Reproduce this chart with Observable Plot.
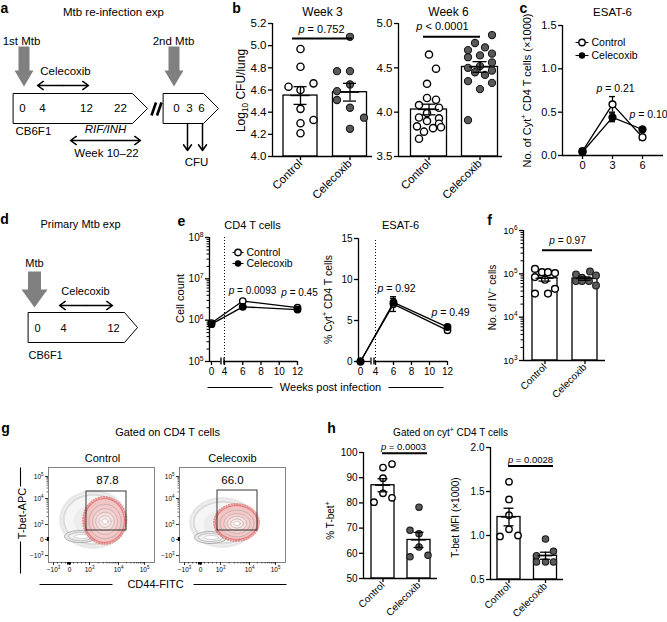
<!DOCTYPE html>
<html><head><meta charset="utf-8">
<script src="https://cdn.jsdelivr.net/npm/d3@7"></script>
<script src="https://cdn.jsdelivr.net/npm/@observablehq/plot@0.6"></script>
<style>
html,body{margin:0;padding:0;background:#fff;}
#root{position:relative;width:667px;height:622px;overflow:hidden;background:#fff;}
#root svg{position:absolute;overflow:visible;}
</style></head><body><div id="root"></div>
<script>
// ================= DATA =================
const groups = ["Control", "Celecoxib"];

// (b) Log10 CFU/lung after re-infection
const wk3Control   = [4.97, 4.81, 4.66, 4.63, 4.60, 4.43, 4.33, 4.30, 4.21];
const wk3Celecoxib = [5.08, 4.77, 4.77, 4.65, 4.59, 4.51, 4.44, 4.35, 4.25];
const wk3Mean = [4.55, 4.58];
const wk3Sem  = [0.08, 0.08];
const wk6Control   = [4.65,4.49,4.32,4.16,4.14,4.08,4.05,3.99,3.94,3.93,3.90,3.87,3.84,3.83,3.82,3.78,3.70];
const wk6Celecoxib = [4.87,4.78,4.73,4.70,4.66,4.64,4.62,4.56,4.52,4.50,4.47,4.45,4.42,4.35,4.33,4.26,3.91];
const wk6Mean = [4.03, 4.51];
const wk6Sem  = [0.06, 0.06];

// (c) ESAT-6 cyt+ CD4 T cells (x1000)
const cWeeks = [0, 3, 6];
const cControl = [0.05, 0.59, 0.21];
const cControlSem = [0.01, 0.09, 0.03];
const cCelecoxib = [0.04, 0.44, 0.30];
const cCelecoxibSem = [0.01, 0.05, 0.025];

// (e) primary infection time course
const eWeeks = [0, 6, 12];
const eTickWeeks = [0, 4, 6, 8, 10, 12];
const eCountControl = [8.5e5, 2.9e6, 2.0e6];
const eCountControlSem = [1.0e5, 2.0e5, 1.5e5];
const eCountCelecoxib = [8.0e5, 2.1e6, 1.8e6];
const eCountCelecoxibSem = [1.0e5, 1.5e5, 1.0e5];
const eEsatControl = [0, 7.0, 3.8];
const eEsatControlSem = [0, 0.9, 0.25];
const eEsatCelecoxib = [0, 7.2, 4.2];
const eEsatCelecoxibSem = [0, 0.5, 0.2];

// (f) No. of IV- cells
const fControl   = [1.30e5,1.09e5,1.09e5,1.04e5,8.4e4,7.3e4,4.5e4,3.5e4,3.5e4];
const fCelecoxib = [1.13e5,9.7e4,9.2e4,8.1e4,6.8e4,6.8e4,6.8e4,5.4e4];
const fMean = [7.9e4, 7.8e4];
const fSem  = [1.1e4, 0.7e4];

// (g) gate percentages
const gatePct = ["87.8", "66.0"];

// (h) % T-bet+ and T-bet MFI
const hControl   = [95.4, 94.0, 89.8, 83.8, 82.0, 80.3];
const hCelecoxib = [78.3, 69.1, 67.8, 62.5, 59.2, 58.6];
const hMean = [87.0, 65.3];
const hSem  = [2.6, 3.0];
const mfiControl   = [1.61, 1.41, 1.23, 1.07, 1.00, 0.99];
const mfiCelecoxib = [0.96, 0.82, 0.77, 0.70, 0.70, 0.70];
const mfiMean = [1.21, 0.77];
const mfiSem  = [0.10, 0.04];

// p values
const pValues = {wk3:"0.752", wk6:"0.0001", c3:"0.21", c6:"0.10", e6:"0.0093", e12:"0.45",
                 es6:"0.92", es12:"0.49", f:"0.97", h1:"0.0003", h2:"0.0028"};

// ================= LAYOUT (pixel offsets of points inside columns) =================
const jit = {
  wk3: [[0,0,13,-12,0,0,13,0,0],[0,-13,0,0,-13,-13,0,14,0]],
  wk6: [[0,7,-2,-2,7,-10,10,-2,-10,10,-2,10,-12,12,4,-5,-10],[12,-5,5,-12,12,0,-12,12,0,-12,12,-5,5,-12,12,0,-12]],
  f:   [[-10,-3,3,10,-10,0,10,-10,3],[5,-9,11,-3,-9,-3,4,11]],
  h:   [[9,0,0,0,9,-9],[0,-9,0,0,9,-9]],
  mfi: [[0,0,0,0,9,-9],[0,8,-9,-9,0,8]]
};

const F = '"Liberation Sans", Arial, Helvetica, sans-serif';
const root = document.getElementById("root");
const baseStyle = {fontFamily: F, fontSize: "11px", color: "black", background: "none", overflow: "visible"};
function place(svg, left, top){ svg.style.left = left + "px"; svg.style.top = top + "px"; root.appendChild(svg); }
const sup10 = d => "10^{" + Math.round(Math.log10(d)) + "}";
const logMinor = (a, b) => { const r = []; for (let e = a; e < b; e++) for (let k = 2; k <= 9; k++) r.push(k * Math.pow(10, e)); return r; };

// ================= BAR + SCATTER PANELS =================
function barPanel(o){
  const unit = o.c1 - o.c0;
  const xd = [(o.axL - o.c0) / unit, (o.axR - o.c0) / unit];
  const hw = o.hw / unit, cap = o.cap / unit;
  const y0 = o.yDomain[0];
  const stats = [0, 1].map(i => ({i, m: o.mean[i], s: o.sem[i]}));
  const pts = g => o.values[g].map((v, j) => ({x: g + o.jitter[g][j] / unit, v}));
  const sw = 1.3;
  const marks = [
    Plot.rectY(stats, {x1: d => d.i - hw, x2: d => d.i + hw, y1: y0, y2: "m", fill: "white", stroke: "black", strokeWidth: sw}),
    Plot.dot(pts(0), {x: "x", y: "v", r: o.r, fill: "white", stroke: "black", strokeWidth: 1.4}),
    Plot.dot(pts(1), {x: "x", y: "v", r: o.r, fill: "#5a5a5a", stroke: "#1a1a1a", strokeWidth: 1.1}),
    Plot.ruleX(stats, {x: "i", y1: d => d.m - d.s, y2: d => d.m + d.s, strokeWidth: sw}),
    Plot.ruleY(stats, {y: d => d.m + d.s, x1: d => d.i - cap, x2: d => d.i + cap, strokeWidth: sw}),
    Plot.ruleY(stats, {y: d => d.m - d.s, x1: d => d.i - cap, x2: d => d.i + cap, strokeWidth: sw}),
    Plot.ruleY(stats, {y: "m", x1: d => d.i - cap * 1.5, x2: d => d.i + cap * 1.5, strokeWidth: sw}),
    Plot.ruleX([xd[0]], {y1: o.yDomain[0], y2: o.yDomain[1], strokeWidth: sw}),
    Plot.ruleY([y0], {x1: xd[0], x2: xd[1], strokeWidth: sw}),
    Plot.axisY({ticks: o.ticks, tickFormat: o.fmt, tickSize: 4, tickPadding: 2, strokeWidth: sw, fontSize: o.fs, label: null}),
    Plot.axisX({ticks: [0, 1], tickFormat: d => groups[d], tickRotate: -45, tickSize: 4, tickPadding: 1, strokeWidth: sw, fontSize: o.fsx, label: null}),
    Plot.ruleY([o.pY], {x1: (o.p1 - o.c0) / unit, x2: (o.p2 - o.c0) / unit, strokeWidth: 2})
  ];
  if (o.minor) marks.push(Plot.axisY({ticks: o.minor, tickFormat: () => "", tickSize: 2.5, strokeWidth: 1, label: null}));
  const svg = Plot.plot({
    width: o.width, height: o.height,
    marginLeft: o.axL - o.left, marginRight: o.left + o.width - o.axR,
    marginTop: o.yT - o.top, marginBottom: o.top + o.height - o.yB,
    x: {domain: xd}, y: {type: o.yType || "linear", domain: o.yDomain},
    style: baseStyle, marks
  });
  place(svg, o.left, o.top);
}

// ================= LINE PANELS (week axis may be broken/compressed) =================
function linePanel(o){
  const xs = d3.scaleLinear().domain(o.xd).range(o.xr);
  const ys = (o.yType === "log" ? d3.scaleLog() : d3.scaleLinear()).domain(o.yDomain).range([o.yB, o.yT]);
  const y0 = o.yDomain[0];
  const mk = (v, s) => o.weeks.map((w, i) => ({p: xs(w), v: v[i], s: s[i]}));
  const A = mk(o.ctrl, o.ctrlSem), B = mk(o.cel, o.celSem);
  const errs = A.concat(B).filter(d => d.s > 0);
  const tickPos = o.xticks.map(w => xs(w));
  const sw = 1.3;
  const marks = [];
  if (o.dotted !== undefined) marks.push(Plot.ruleX([xs(o.dotted)], {y1: o.yDomain[0], y2: o.yDomain[1], strokeDasharray: "1,2", strokeWidth: 1}));
  marks.push(
    Plot.line(A, {x: "p", y: "v", strokeWidth: sw}),
    Plot.line(B, {x: "p", y: "v", strokeWidth: sw}),
    Plot.ruleX(errs, {x: "p", y1: d => d.v - d.s, y2: d => d.v + d.s, strokeWidth: sw}),
    Plot.ruleY(errs, {y: d => d.v + d.s, x1: d => d.p - o.cap, x2: d => d.p + o.cap, strokeWidth: sw}),
    Plot.ruleY(errs, {y: d => d.v - d.s, x1: d => d.p - o.cap, x2: d => d.p + o.cap, strokeWidth: sw}),
    Plot.dot(A, {x: "p", y: "v", r: o.r, fill: "white", stroke: "black", strokeWidth: 1.4}),
    Plot.dot(B, {x: "p", y: "v", r: o.r, fill: "black", stroke: "black"}),
    Plot.ruleX([o.axL], {y1: o.yDomain[0], y2: o.yDomain[1], strokeWidth: sw}),
    Plot.axisY({ticks: o.yticks, tickFormat: o.fmt, tickSize: 4, tickPadding: 2, strokeWidth: sw, fontSize: o.fs, label: null}),
    Plot.axisX({ticks: tickPos, tickFormat: p => String(o.xticks[tickPos.indexOf(p)]), tickSize: 4, tickPadding: 2, strokeWidth: sw, fontSize: o.fs, label: null})
  );
  if (o.minor) marks.push(Plot.axisY({ticks: o.minor, tickFormat: () => "", tickSize: 2.5, strokeWidth: 1, label: null}));
  if (o.breaks) {
    marks.push(
      Plot.ruleY([y0], {x1: o.axL, x2: o.breaks[0], strokeWidth: sw}),
      Plot.ruleY([y0], {x1: o.breaks[1], x2: o.axR, strokeWidth: sw}),
      Plot.ruleX(o.breaks, {y1: ys.invert(o.yB + 3.5), y2: ys.invert(o.yB - 3.5), strokeWidth: sw})
    );
  } else {
    marks.push(Plot.ruleY([y0], {x1: o.axL, x2: o.axR, strokeWidth: sw}));
  }
  const svg = Plot.plot({
    width: o.width, height: o.height,
    marginLeft: o.axL - o.left, marginRight: o.left + o.width - o.axR,
    marginTop: o.yT - o.top, marginBottom: o.top + o.height - o.yB,
    x: {domain: [o.axL, o.axR]},
    y: {type: o.yType || "linear", domain: o.yDomain},
    style: baseStyle, marks
  });
  place(svg, o.left, o.top);
}

// ================= FLOW PANELS =================
function ell(cx, cy, rx, ry, id){
  return d3.range(72).map(k => ({id, x: cx + rx * Math.cos(k / 72 * 2 * Math.PI), y: cy + ry * Math.sin(k / 72 * 2 * Math.PI)}));
}
function flowPanel(o){
  const xt = [5, 21, 41, 70, 96], xl = ["−10^{3}", "0", "10^{3}", "10^{4}", "10^{5}"];
  const yt = [9, 31, 57, 72, 88], yl = ["10^{5}", "10^{4}", "10^{3}", "0", "−10^{3}"];
  const xm = [9, 13, 17, 25, 29, 33, 37].concat(d3.range(2, 10).map(k => 41 + 29 * Math.log10(k)), d3.range(2, 10).map(k => 70 + 26 * Math.log10(k)));
  const ym = d3.range(2, 10).map(k => 57 - 26 * Math.log10(k)).concat(d3.range(2, 10).map(k => 31 - 22 * Math.log10(k)));
  const [cx, cy, crx, cry] = o.cloud, [kx, ky] = o.caps, [rx0, ry0, rrx, rry] = o.red;
  const rings = [[0.8, 0.78], [0.62, 0.58], [0.46, 0.42], [0.3, 0.26], [0.15, 0.12]];
  const ringFill = ["#f3c9c9", "#f5d3d3", "#f7dfdf", "#fbecec", "#ffffff"];
  const marks = [
    Plot.line(ell(cx, cy, crx + 3, cry + 3, 0), {x: "x", y: "y", fill: "none", stroke: "#a0a0a0", strokeWidth: 3, strokeOpacity: 0.25, strokeDasharray: "0.5,2.4", curve: "linear-closed"}),
    Plot.line(ell(cx, cy, crx, cry, 1), {x: "x", y: "y", fill: "#d6d6d6", fillOpacity: 0.25, stroke: "#999999", strokeWidth: 2.5, strokeOpacity: 0.3, strokeDasharray: "0.6,1.8", curve: "linear-closed"}),
    Plot.line(ell(cx + 3, cy + 2, crx * 0.75, cry * 0.75, 12), {x: "x", y: "y", fill: "#cccccc", fillOpacity: 0.22, stroke: "none", curve: "linear-closed"}),
    Plot.line(ell(kx, ky, 16, 6, 2), {x: "x", y: "y", fill: "#e6e6e6", stroke: "#9a9a9a", strokeWidth: 0.8, curve: "linear-closed"}),
    Plot.line(ell(kx, ky, 12, 4, 3), {x: "x", y: "y", fill: "#f0f0f0", stroke: "#aaaaaa", strokeWidth: 0.7, curve: "linear-closed"}),
    Plot.line(ell(kx + 1, ky, 7, 2, 4), {x: "x", y: "y", fill: "#ffffff", stroke: "#b5b5b5", strokeWidth: 0.6, curve: "linear-closed"}),
    Plot.line(ell(rx0, ry0, rrx + 1.5, rry + 1.5, 5), {x: "x", y: "y", fill: "none", stroke: "#e04848", strokeWidth: 2, strokeDasharray: "0.5,2.2", strokeOpacity: 0.55, curve: "linear-closed"}),
    Plot.line(ell(rx0, ry0, rrx, rry, 6), {x: "x", y: "y", fill: "#f2bcbc", fillOpacity: 0.85, stroke: "#e26464", strokeWidth: 1.4, strokeDasharray: "0.6,1.3", strokeOpacity: 0.8, curve: "linear-closed"})
  ];
  rings.forEach(([a, b], i) => marks.push(Plot.line(ell(rx0 + 0.5, ry0 + 1, rrx * a, rry * b, 7 + i), {x: "x", y: "y", fill: ringFill[i], stroke: "#b8a4a4", strokeWidth: 0.7, curve: "linear-closed"})));
  marks.push(
    Plot.rect([o.gate], {x1: d => d[0], x2: d => d[1], y1: d => d[2], y2: d => d[3], fill: "none", stroke: "#222", strokeWidth: 0.9}),
    Plot.text([o.pct], {x: o.pctAt[0], y: o.pctAt[1], text: d => d, fontSize: 11.5}),
    Plot.frame({stroke: "#777", strokeWidth: 0.9}),
    Plot.rect([0], {x1: -1.2, x2: 1, y1: 70, y2: 74, fill: "black"}),
    Plot.rect([0], {x1: 19, x2: 23, y1: 95, y2: 97.5, fill: "black"}),
    Plot.axisX({ticks: xt, tickFormat: d => xl[xt.indexOf(d)], tickSize: 3, tickPadding: 2, fontSize: 6.5, strokeWidth: 0.8, label: null}),
    Plot.axisX({ticks: xm, tickFormat: () => "", tickSize: 1.5, strokeWidth: 0.6, label: null}),
    Plot.axisY({ticks: yt, tickFormat: d => yl[yt.indexOf(d)], tickSize: 3, tickPadding: 2, fontSize: 6.5, strokeWidth: 0.8, label: null}),
    Plot.axisY({ticks: ym, tickFormat: () => "", tickSize: 1.5, strokeWidth: 0.6, label: null})
  );
  const svg = Plot.plot({
    width: 140, height: 130, marginLeft: 20, marginRight: 14, marginTop: 12, marginBottom: 23,
    x: {domain: [0, 106]}, y: {domain: [95, 0]}, style: baseStyle, marks
  });
  place(svg, o.left, 455);
}

// ================= BACKGROUND: schematics, titles, labels =================
const centerTexts = [
  ["Mtb re-infection exp", 113, 12, 11.5, 0], ["1st Mtb", 21, 41, 11.5, 0], ["2nd Mtb", 173, 41, 11.5, 0],
  ["Celecoxib", 65, 71, 11.5, 0],
  ["0", 22, 108, 11.5, 0], ["4", 42, 108, 11.5, 0], ["12", 86, 108, 11.5, 0], ["22", 120, 108, 11.5, 0],
  ["0", 176, 108, 11.5, 0], ["3", 189, 108, 11.5, 0], ["6", 201, 108, 11.5, 0],
  ["Week 10–22", 106, 153, 11.5, 0], ["CFU", 196, 162, 11.5, 0],
  ["Week 3", 322, 12, 12, 0], ["Week 6", 448, 12, 12, 0], ["ESAT-6", 612, 12, 11.5, 0],
  ["Log_{10} CFU/lung", 241, 90, 12, -90],
  ["~p~ = " + pValues.wk3, 321, 29, 11, 0], ["~p~ < " + pValues.wk6, 442, 26, 11, 0],
  ["No. of Cyt^{+} CD4 T cells (×1000)", 527, 90, 11, -90],
  ["~p~ = " + pValues.c3, 615, 88, 10.5, 0], ["~p~ = " + pValues.c6, 648, 114, 10.5, 0],
  ["Primary Mtb exp", 80, 224, 11, 0], ["Mtb", 34, 263, 11, 0], ["Celecoxib", 85, 291, 11, 0],
  ["0", 37, 328, 11, 0], ["4", 63, 328, 11, 0], ["12", 113, 328, 11, 0],
  ["CD4 T cells", 252, 225, 11, 0], ["ESAT-6", 400, 225, 11, 0],
  ["Cell count", 180, 298, 11, -90], ["% Cyt^{+} CD4 T cells", 328, 299, 10.5, -90],
  ["~p~ = " + pValues.e6, 252, 290, 10, 0], ["~p~ = " + pValues.e12, 299, 292, 10, 0],
  ["~p~ = " + pValues.es6, 396, 288, 10.5, 0], ["~p~ = " + pValues.es12, 450, 312, 10.5, 0],
  ["Weeks post infection", 330, 387, 11, 0],
  ["No. of IV^{−} cells", 492, 297, 10, -90], ["~p~ = " + pValues.f, 567, 240, 10, 0],
  ["Gated on CD4 T cells", 167, 432, 11, 0], ["Control", 102, 458, 11, 0], ["Celecoxib", 232, 458, 11, 0],
  ["CD44-FITC", 155, 584, 11, 0], ["T-bet-APC", 22, 513, 11, -90],
  ["Gated on cyt^{+} CD4 T cells", 450, 432, 10, 0],
  ["% T-bet^{+}", 330, 520, 10, -90], ["T-bet MFI (×1000)", 455, 517, 10, -90],
  ["~p~ = " + pValues.h1, 403, 446, 9.5, 0], ["~p~ = " + pValues.h2, 530, 459, 9.5, 0]
];
const leftTexts = [
  ["CB6F1", 15, 131, 11.5], ["CB6F1", 28, 355, 11],
  ["Control", 591, 42, 10.5], ["Celecoxib", 591, 55, 10.5],
  ["Control", 246, 252, 10.5], ["Celecoxib", 246, 263, 10.5]
];
const letters = [["a", 4, 8], ["b", 236, 8], ["c", 523, 8], ["d", 4, 219], ["e", 181, 221], ["f", 489, 220], ["g", 5, 428], ["h", 331, 428]];
const bigArrows = [
  {id: 0, pts: [[18,46],[29,46],[29,70],[33,70],[23.5,86],[14,70],[18,70]]},
  {id: 1, pts: [[168,46],[179,46],[179,70],[183,70],[173.5,86],[164,70],[168,70]]},
  {id: 2, pts: [[27.5,271],[40.5,271],[40.5,289],[47,289],[34,307],[21,289],[27.5,289]]}
].flatMap(s => s.pts.map(([x, y]) => ({id: s.id, x, y})));
const boxes = [
  {id: 0, pts: [[13,93],[132,93],[147,108],[132,123],[13,123]]},
  {id: 1, pts: [[163,93],[203,93],[218,108],[203,123],[163,123]]},
  {id: 2, pts: [[28,312],[124,312],[137,327],[124,342],[28,342]]}
].flatMap(s => s.pts.map(([x, y]) => ({id: s.id, x, y})));
const arrows = [
  [62.5,85,37,85],[62.5,85,88,85],[105,140,70,140],[105,140,140,140],[85.5,305,59,305],[85.5,305,112,305],
  [187,123,187,150],[202,123,202,150]
];
const segs = [
  [151,115,155.5,102],[156.5,115,161,102],
  [207,387,272,387],[388,387,443,387],
  [39,584,112,584],[193,584,286,584],
  [20,467,20,486],[20,541,20,573],
  [575,42,588,42],[575,55,588,55],[232,252,243,252],[232,263,243,263]
];
const legendOpen = [[581.5,42],[237.5,252]], legendFilled = [[581.5,55],[237.5,263]];

const bg = Plot.plot({
  width: 667, height: 622, margin: 0,
  x: {domain: [0, 667], axis: null}, y: {domain: [622, 0], axis: null},
  style: baseStyle,
  marks: [
    Plot.line(bigArrows, {x: "x", y: "y", z: "id", fill: "#808080", stroke: "none", curve: "linear-closed"}),
    Plot.line(boxes, {x: "x", y: "y", z: "id", fill: "white", stroke: "black", strokeWidth: 1, curve: "linear-closed"}),
    Plot.arrow(arrows, {x1: d => d[0], y1: d => d[1], x2: d => d[2], y2: d => d[3], strokeWidth: 1.5, headLength: 7, headAngle: 70}),
    Plot.link(segs.slice(0, 2), {x1: d => d[0], y1: d => d[1], x2: d => d[2], y2: d => d[3], strokeWidth: 2.6}),
    Plot.link(segs.slice(2), {x1: d => d[0], y1: d => d[1], x2: d => d[2], y2: d => d[3], strokeWidth: 1.1}),
    Plot.dot(legendOpen, {x: d => d[0], y: d => d[1], r: 3.2, fill: "white", stroke: "black", strokeWidth: 1.4}),
    Plot.dot(legendFilled, {x: d => d[0], y: d => d[1], r: 3.2, fill: "black"}),
    Plot.text(centerTexts, {x: d => d[1], y: d => d[2], text: d => d[0], fontSize: d => d[3], rotate: d => d[4]}),
    Plot.text(leftTexts, {x: d => d[1], y: d => d[2], text: d => d[0], fontSize: d => d[3], textAnchor: "start"}),
    Plot.text(["RIF/INH"], {x: 105, y: 129, text: d => d, fontSize: 11.5, fontStyle: "italic"}),
    Plot.text(letters, {x: d => d[1], y: d => d[2], text: d => d[0], fontSize: 14, fontWeight: "bold"})
  ]
});
place(bg, 0, 0);

// ================= CHARTS =================
barPanel({left: 255, top: 0, width: 125, height: 200, axL: 272, axR: 372, yT: 23, yB: 156,
  c0: 300, c1: 349.5, hw: 17, cap: 6.5, yDomain: [4.0, 5.2], ticks: [4.0, 4.2, 4.4, 4.6, 4.8, 5.0, 5.2],
  fmt: d => d.toFixed(1), values: [wk3Control, wk3Celecoxib], jitter: jit.wk3, mean: wk3Mean, sem: wk3Sem,
  r: 3.6, pY: 5.065, p1: 292, p2: 352, fs: 11.5, fsx: 11.5});
barPanel({left: 385, top: 0, width: 125, height: 200, axL: 398, axR: 502, yT: 23, yB: 156,
  c0: 428.5, c1: 479.5, hw: 18, cap: 7, yDomain: [3.5, 5.0], ticks: [3.5, 4.0, 4.5, 5.0],
  fmt: d => d.toFixed(1), values: [wk6Control, wk6Celecoxib], jitter: jit.wk6, mean: wk6Mean, sem: wk6Sem,
  r: 3.6, pY: 4.85, p1: 423, p2: 480, fs: 11.5, fsx: 11.5});
linePanel({left: 545, top: 0, width: 122, height: 200, axL: 562, axR: 663, yT: 25, yB: 155,
  xd: [0, 6], xr: [582, 642], yDomain: [0, 1.5], yticks: [0, 0.5, 1, 1.5], fmt: d => d.toFixed(1), xticks: cWeeks,
  weeks: cWeeks, ctrl: cControl, ctrlSem: cControlSem, cel: cCelecoxib, celSem: cCelecoxibSem, cap: 3, r: 3.4, fs: 11});
linePanel({left: 195, top: 200, width: 110, height: 200, axL: 209, axR: 297, yT: 237, yB: 361,
  xd: [0, 4, 12], xr: [211, 224, 297], yType: "log", yDomain: [1e5, 1e8], yticks: [1e5, 1e6, 1e7, 1e8], fmt: sup10,
  minor: logMinor(5, 8), xticks: eTickWeeks, dotted: 4, breaks: [220.5, 223.5],
  weeks: eWeeks, ctrl: eCountControl, ctrlSem: eCountControlSem, cel: eCountCelecoxib, celSem: eCountCelecoxibSem, cap: 3, r: 3.2, fs: 10});
linePanel({left: 345, top: 200, width: 110, height: 200, axL: 358, axR: 447, yT: 238, yB: 361,
  xd: [0, 4, 12], xr: [360, 375, 447], yDomain: [0, 15], yticks: [0, 5, 10, 15], fmt: d => String(d),
  xticks: eTickWeeks, dotted: 4, breaks: [370.5, 373.5],
  weeks: eWeeks, ctrl: eEsatControl, ctrlSem: eEsatControlSem, cel: eEsatCelecoxib, celSem: eEsatCelecoxibSem, cap: 3, r: 3.2, fs: 10});
barPanel({left: 495, top: 200, width: 115, height: 200, axL: 523, axR: 605, yT: 230, yB: 360,
  c0: 544.5, c1: 584.5, hw: 12.5, cap: 6, yType: "log", yDomain: [1e3, 1e6], ticks: [1e3, 1e4, 1e5, 1e6], fmt: sup10,
  minor: logMinor(3, 6), values: [fControl, fCelecoxib], jitter: jit.f, mean: fMean, sem: fSem,
  r: 3.4, pY: 3.5e5, p1: 542, p2: 592, fs: 9.5, fsx: 10});
flowPanel({left: 28, cloud: [45, 52, 30, 25], caps: [32, 69], red: [56, 53, 20, 22], gate: [38, 78, 24, 63], pct: gatePct[0], pctAt: [59, 13]});
flowPanel({left: 159, cloud: [43, 55, 29, 21], caps: [31, 70], red: [57, 55, 21, 17], gate: [38, 78, 23, 63], pct: gatePct[1], pctAt: [53, 13]});
barPanel({left: 345, top: 430, width: 97, height: 192, axL: 363, axR: 437, yT: 452, yB: 578,
  c0: 382.5, c1: 418.5, hw: 11.5, cap: 5, yDomain: [50, 100], ticks: [50, 60, 70, 80, 90, 100], fmt: d => String(d),
  values: [hControl, hCelecoxib], jitter: jit.h, mean: hMean, sem: hSem, r: 3.2, pY: 99.7, p1: 382, p2: 427, fs: 10, fsx: 10});
barPanel({left: 470, top: 430, width: 97, height: 192, axL: 490, axR: 563, yT: 447, yB: 579,
  c0: 508.5, c1: 545, hw: 11.5, cap: 5, yDomain: [0.5, 2.0], ticks: [0.5, 1.0, 1.5, 2.0], fmt: d => d.toFixed(1),
  values: [mfiControl, mfiCelecoxib], jitter: jit.mfi, mean: mfiMean, sem: mfiSem, r: 3.2, pY: 1.79, p1: 508, p2: 553, fs: 10, fsx: 10});

// ================= rich text: superscripts, subscripts, italics =================
function rich(el){
  el.querySelectorAll("text").forEach(t => {
    const s = t.textContent;
    if (!/\^\{|_\{|~/.test(s)) return;
    const fs = parseFloat(getComputedStyle(t).fontSize) || 10;
    const parts = s.split(/(\^\{[^}]*\}|_\{[^}]*\}|~[^~]*~)/).filter(p => p !== "");
    while (t.firstChild) t.removeChild(t.firstChild);
    let off = 0;
    for (const p of parts) {
      const ts = document.createElementNS("http://www.w3.org/2000/svg", "tspan");
      let target = 0, txt = p;
      if (p.startsWith("^{")) { target = -0.42 * fs; txt = p.slice(2, -1); ts.setAttribute("font-size", (0.68 * fs) + "px"); }
      else if (p.startsWith("_{")) { target = 0.25 * fs; txt = p.slice(2, -1); ts.setAttribute("font-size", (0.68 * fs) + "px"); }
      else if (p.startsWith("~")) { txt = p.slice(1, -1); ts.setAttribute("font-style", "italic"); }
      if (target !== off) { ts.setAttribute("dy", (target - off) + "px"); off = target; }
      ts.textContent = txt;
      t.appendChild(ts);
    }
  });
}
rich(root);
</script></body></html>
